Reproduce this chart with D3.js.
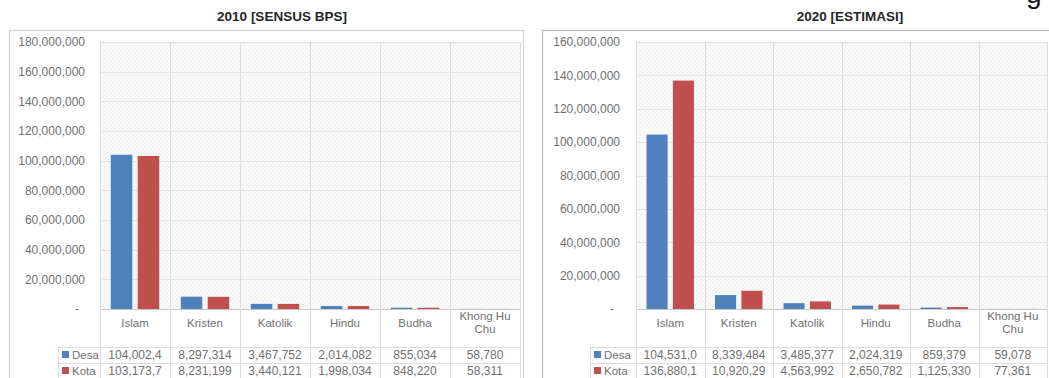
<!DOCTYPE html>
<html><head><meta charset="utf-8">
<script src="https://cdn.jsdelivr.net/npm/d3@7"></script>
<style>
body{margin:0;background:#fff}
svg{display:block}
text{font-family:"Liberation Sans",Arial,sans-serif}
</style></head>
<body><svg id="c" width="1049" height="378"></svg>
<script>
// ---------- data ----------
const categories = ["Islam", "Kristen", "Katolik", "Hindu", "Budha", "Khong Hu Chu"];
const series = ["Desa", "Kota"];
const title2010 = "2010 [SENSUS BPS]";
const title2020 = "2020 [ESTIMASI]";
const desa2010 = [104002400, 8297314, 3467752, 2014082, 855034, 58780];
const kota2010 = [103173700, 8231199, 3440121, 1998034, 848220, 58311];
const desa2020 = [104531000, 8339484, 3485377, 2024319, 859379, 59078];
const kota2020 = [136880100, 10920290, 4563992, 2650782, 1125330, 77361];
const ticks2010 = [0, 20000000, 40000000, 60000000, 80000000, 100000000, 120000000, 140000000, 160000000, 180000000];
const ticks2020 = [0, 20000000, 40000000, 60000000, 80000000, 100000000, 120000000, 140000000, 160000000];

// ---------- style / layout ----------
const colors = {Desa: "#4F81BD", Kota: "#C0504D"};
const txt = "#707070";
const svg = d3.select("#c");
const defs = svg.append("defs");
const pat = defs.append("pattern").attr("id", "hatch").attr("patternUnits", "userSpaceOnUse")
  .attr("width", 4).attr("height", 4);
pat.append("rect").attr("width", 4).attr("height", 4).attr("fill", "#fafafa");
pat.append("path").attr("d", "M-1,1 l2,-2 M0,4 l4,-4 M3,5 l2,-2").attr("stroke", "#eeeeee").attr("stroke-width", 1);

const fmt = d3.format(",");
const cellText = v => fmt(v).slice(0, 9);

function panel(cfg) {
  const g = svg.append("g");
  const top = 42, bottom = 309;
  // panel border
  g.append("rect").attr("x", cfg.boxL + 0.5).attr("y", 30.5)
    .attr("width", cfg.boxR - cfg.boxL).attr("height", 400)
    .attr("fill", "#fff").attr("stroke", cfg.border).attr("stroke-width", 1.2);
  // title
  g.append("text").attr("x", cfg.titleX).attr("y", 21).attr("text-anchor", "middle")
    .attr("font-size", 13.5).attr("font-weight", "bold").attr("fill", "#262626").text(cfg.title);

  const x = d3.scaleBand().domain(categories).range([cfg.plotL, cfg.plotR]);
  const x1 = d3.scaleBand().domain(series).range([0, x.bandwidth()]).paddingInner(0.2).paddingOuter(0.4);
  const y = d3.scaleLinear().domain([0, cfg.ticks[cfg.ticks.length - 1]]).range([bottom, top]);

  // plot background
  g.append("rect").attr("x", cfg.plotL).attr("y", top).attr("width", cfg.plotR - cfg.plotL)
    .attr("height", bottom - top).attr("fill", "url(#hatch)");
  // horizontal gridlines
  g.selectAll(".hg").data(cfg.ticks).join("line")
    .attr("x1", cfg.plotL).attr("x2", cfg.plotR)
    .attr("y1", d => Math.round(y(d)) + 0.5).attr("y2", d => Math.round(y(d)) + 0.5)
    .attr("stroke", d => d === 0 ? "#c8c8c8" : "#e2e2e2");
  // y axis labels
  const yAxis = d3.axisLeft(y).tickValues(cfg.ticks).tickSize(0).tickPadding(0)
    .tickFormat(d => d === 0 ? "-" : fmt(d));
  const ya = g.append("g").attr("transform", `translate(${cfg.labelR},0)`).call(yAxis);
  ya.select(".domain").remove();
  ya.selectAll("text").attr("font-size", 12).attr("fill", txt)
    .attr("font-family", '"Liberation Sans",Arial,sans-serif')
    .attr("dx", d => d === 0 ? -6 : 0);

  // vertical separators (plot + table)
  const seps = [cfg.plotL].concat(categories.map(c => x(c) + x.bandwidth()));
  g.selectAll(".vs").data(seps).join("line")
    .attr("x1", d => Math.round(d) + 0.5).attr("x2", d => Math.round(d) + 0.5)
    .attr("y1", top).attr("y2", 380).attr("stroke", "#dcdcdc");

  // bars
  const data = categories.map((c, i) => ({c, vals: [cfg.desa[i], cfg.kota[i]]}));
  const grp = g.selectAll(".bg").data(data).join("g").attr("transform", d => `translate(${x(d.c)},0)`);
  grp.selectAll("rect").data(d => d.vals.map((v, j) => ({s: series[j], v}))).join("rect")
    .attr("x", d => x1(d.s)).attr("width", x1.bandwidth())
    .attr("y", d => y(d.v)).attr("height", d => bottom - y(d.v))
    .attr("fill", d => colors[d.s]);

  // category labels row
  const cl = g.selectAll(".cl").data(categories).join("text")
    .attr("text-anchor", "middle").attr("font-size", 11.5).attr("fill", txt)
    .attr("x", d => x(d) + x.bandwidth() / 2);
  cl.each(function (d) {
    const words = d.split(" ");
    const lines = d.length > 9 ? [words.slice(0, -1).join(" "), words[words.length - 1]] : [d];
    const t = d3.select(this);
    lines.forEach((ln, k) => {
      t.append("tspan").attr("x", x(d) + x.bandwidth() / 2)
        .attr("y", lines.length === 1 ? 327 : 320 + k * 13).text(ln);
    });
  });

  // table lines
  const rowY = [347, 363, 379];
  g.selectAll(".tl").data(rowY).join("line")
    .attr("x1", cfg.keyL).attr("x2", cfg.plotR).attr("y1", d => d + 0.5).attr("y2", d => d + 0.5)
    .attr("stroke", "#dcdcdc");
  g.append("line").attr("x1", cfg.keyL + 0.5).attr("x2", cfg.keyL + 0.5).attr("y1", 347).attr("y2", 380)
    .attr("stroke", "#dcdcdc");

  // table rows
  const rows = [{s: "Desa", vals: cfg.desa, y: 359}, {s: "Kota", vals: cfg.kota, y: 375}];
  rows.forEach(r => {
    g.append("rect").attr("x", cfg.keyL + 4).attr("y", r.y - 8).attr("width", 7).attr("height", 7).attr("fill", colors[r.s]);
    g.append("text").attr("x", cfg.keyL + 14).attr("y", r.y).attr("font-size", 11.5).attr("fill", txt).text(r.s);
    g.selectAll(null).data(r.vals).join("text")
      .attr("x", (d, i) => x(categories[i]) + x.bandwidth() / 2).attr("y", r.y)
      .attr("text-anchor", "middle").attr("font-size", 12).attr("fill", txt)
      .text(d => cellText(d));
  });
}

panel({title: title2010, titleX: 282, boxL: 9, boxR: 523, plotL: 100, plotR: 520, labelR: 85, keyL: 58,
       ticks: ticks2010, desa: desa2010, kota: kota2010, border: "#d4d4d4"});
panel({title: title2020, titleX: 850, boxL: 542, boxR: 1060, plotL: 636, plotR: 1047, labelR: 620, keyL: 590,
       ticks: ticks2020, desa: desa2020, kota: kota2020, border: "#b8b8b8"});

// stray glyph cut off at the top edge of the picture (as in the reference)
svg.append("text").attr("x", 1026).attr("y", 3).attr("font-family", '"Liberation Serif",serif')
  .attr("font-size", 28).attr("fill", "#111").text("g");
</script>
</body></html>
